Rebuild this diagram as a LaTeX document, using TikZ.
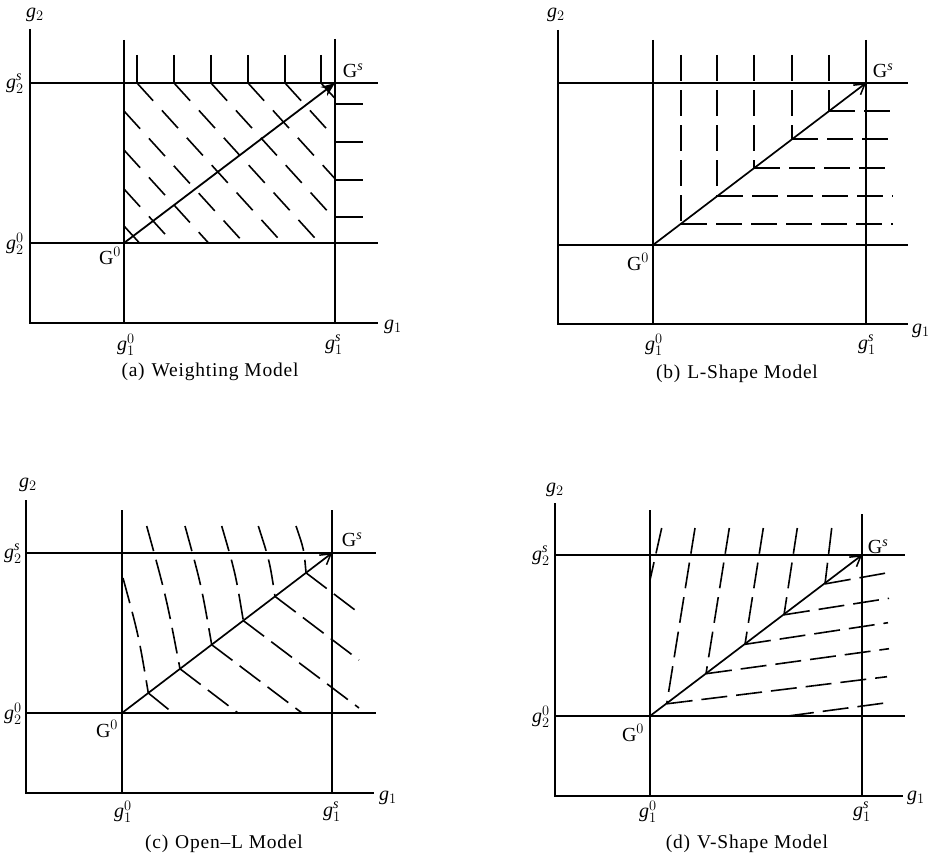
\documentclass[tikz,border=0pt]{standalone}
\usepackage{fontspec}
\setmainfont{Liberation Serif}
\newfontfamily\capfont[LetterSpace=4]{Liberation Serif}
\usetikzlibrary{arrows.meta,calc}
\begin{document}
\begin{tikzpicture}[x=1pt,y=-1pt,
  ln/.style={line width=1.5pt},
  dsha/.style={line width=1.6pt, dash pattern=on 24pt off 13pt},
  dshb/.style={line width=1.6pt, dash pattern=on 26pt off 9pt},
  arrA/.style={line width=1.8pt,-{Stealth[length=14pt,width=11pt]}},
  arr/.style={line width=1.7pt,-{Straight Barb[length=10pt,width=12pt,line width=1.5pt]}},
  lab/.style={inner sep=0pt, font=\fontsize{20}{23}\selectfont},
  captext/.style={inner sep=0pt, font=\capfont\fontsize{19.5}{22}\selectfont},
]
\useasboundingbox[fill=white] (0,0) rectangle (933,859);

% ================= (a) Weighting Model =================
\coordinate (aG0) at (124,243);
\coordinate (aGs) at (335,83);
\draw[ln] (30,29) -- (30,323) -- (378,323);
\draw[ln] (124,40) -- (124,323);
\draw[ln] (335,39) -- (335,323);
\draw[ln] (30,83) -- (378,83);
\draw[ln] (30,243) -- (378,243);
\foreach \x in {137,174,211,248,285,321} \draw[ln] (\x,55) -- (\x,83);
\foreach \y in {104,142,180,217} \draw[ln] (335,\y) -- (363,\y);
\begin{scope}
  \clip (124,83) rectangle (335,243);
  \foreach \x in {137,174,211,248,285,321} \draw[dsha] (\x,83) -- ++(200,220);
  \foreach \y in {111,150,189,226} \draw[dsha] (124,\y) -- ++(200,220);
\end{scope}
\draw[arrA] (aG0) -- (aGs);
\node[lab] at (35,15) {$\mathit{g}_{2}$};
\node[lab] at (393,327) {$\mathit{g}_{1}$};
\node[lab] at (15,84) {$\mathit{g}_{2}^{\mathit{s}}$};
\node[lab] at (15,244) {$\mathit{g}_{2}^{0}$};
\node[lab] at (126,345) {$\mathit{g}_{1}^{0}$};
\node[lab] at (334,345) {$\mathit{g}_{1}^{\mathit{s}}$};
\node[lab] at (110,256) {G$^{0}$};
\node[lab] at (353,71) {G$^{\mathit{s}}$};
\node[captext] at (210,372) {(a)\hspace{0.35em}Weighting\hspace{0.3em}Model};

% ================= (b) L-Shape Model =================
\coordinate (bG0) at (653,245);
\coordinate (bGs) at (866,83);
\draw[ln] (558,30) -- (558,324) -- (908,324);
\draw[ln] (653,40) -- (653,324);
\draw[ln] (866,40) -- (866,324);
\draw[ln] (558,83) -- (908,83);
\draw[ln] (558,245) -- (908,245);
\foreach \x in {681,717,754,792,829}{
  \pgfmathsetmacro\yy{round(245-(\x-653)*0.7606)}
  \draw[dshb] (\x,55) -- (\x,\yy);
  \draw[dshb] (\x,\yy) -- (893,\yy);
}
\draw[arr] (bG0) -- (bGs);
\node[lab] at (556,15) {$\mathit{g}_{2}$};
\node[lab] at (921,331) {$\mathit{g}_{1}$};
\node[lab] at (654,345) {$\mathit{g}_{1}^{0}$};
\node[lab] at (867,345) {$\mathit{g}_{1}^{\mathit{s}}$};
\node[lab] at (638,262) {G$^{0}$};
\node[lab] at (883,71) {G$^{\mathit{s}}$};
\node[captext] at (737,374) {(b)\hspace{0.35em}L-Shape\hspace{0.3em}Model};

% ================= (c) Open-L Model =================
\coordinate (cG0) at (122,713);
\coordinate (cGs) at (332,553);
\draw[ln] (26,500) -- (26,793) -- (374,793);
\draw[ln] (122,510) -- (122,793);
\draw[ln] (332,510) -- (332,793);
\draw[ln] (26,553) -- (376,553);
\draw[ln] (26,713) -- (376,713);
\coordinate (J1) at (148.3,693.0);
\coordinate (J2) at (180,668.8);
\coordinate (J3) at (211.7,644.7);
\coordinate (J4) at (243.3,620.6);
\coordinate (J5) at (275,596.4);
\coordinate (J6) at (306,572.8);
\coordinate (T1) at (123,578);
\coordinate (T2) at (146.7,526);
\coordinate (T3) at (185,526);
\coordinate (T4) at (221.7,526);
\coordinate (T5) at (258.3,526);
\coordinate (T6) at (296,526);
\foreach \i in {1,...,6}{
  \draw[dshb] (T\i) .. controls ($(T\i)!0.5!(J\i)+(3,0)$) .. (J\i);
}
\draw[dshb] (J1) -- (173,713);
\draw[dshb] (J2) -- (238,713);
\draw[dshb] (J3) -- (302,713);
\draw[dshb] (J4) -- (359,708);
\draw[dshb] (J5) -- (359,660);
\draw[dshb] (J6) -- (359,613);
\draw[arr] (cG0) -- (cGs);
\node[lab] at (28,485) {$\mathit{g}_{2}$};
\node[lab] at (388,798) {$\mathit{g}_{1}$};
\node[lab] at (13,554) {$\mathit{g}_{2}^{\mathit{s}}$};
\node[lab] at (13,714) {$\mathit{g}_{2}^{0}$};
\node[lab] at (123,812) {$\mathit{g}_{1}^{0}$};
\node[lab] at (332,812) {$\mathit{g}_{1}^{\mathit{s}}$};
\node[lab] at (107,729) {G$^{0}$};
\node[lab] at (352,540) {G$^{\mathit{s}}$};
\node[captext] at (224,844) {(c)\hspace{0.35em}Open–L\hspace{0.3em}Model};

% ================= (d) V-Shape Model =================
\coordinate (dG0) at (650,716);
\coordinate (dGs) at (862,555);
\draw[ln] (555,503) -- (555,796) -- (903,796);
\draw[ln] (650,510) -- (650,796);
\draw[ln] (862,514) -- (862,796);
\draw[ln] (555,555) -- (905,555);
\draw[ln] (555,716) -- (905,716);
\coordinate (K1) at (666.7,703.8);
\coordinate (K2) at (706,673.7);
\coordinate (K3) at (745,644.3);
\coordinate (K4) at (784,614.8);
\coordinate (K5) at (825,583.9);
\coordinate (K0) at (650,580);
\draw[dshb] (661.7,528) -- (K0);
\draw[dshb] (695,528) -- (K1);
\draw[dshb] (729.3,528) -- (K2);
\draw[dshb] (763.3,528) -- (K3);
\draw[dshb] (797.3,528) -- (K4);
\draw[dshb] (831.7,528) -- (K5);
\draw[dshb] (K5) -- (888,572.7);
\draw[dshb] (K4) -- (889,598.3);
\draw[dshb] (K3) -- (888,622.7);
\draw[dshb] (K2) -- (889,648.7);
\draw[dshb] (K1) -- (887,676.7);
\draw[dshb] (788,716) -- (887,702.7);
\draw[arr] (dG0) -- (dGs);
\node[lab] at (555,490) {$\mathit{g}_{2}$};
\node[lab] at (916,798) {$\mathit{g}_{1}$};
\node[lab] at (541,556) {$\mathit{g}_{2}^{\mathit{s}}$};
\node[lab] at (541,717) {$\mathit{g}_{2}^{0}$};
\node[lab] at (648,812) {$\mathit{g}_{1}^{0}$};
\node[lab] at (862,812) {$\mathit{g}_{1}^{\mathit{s}}$};
\node[lab] at (633,733) {G$^{0}$};
\node[lab] at (878,547) {G$^{\mathit{s}}$};
\node[captext] at (747,844) {(d)\hspace{0.35em}V-Shape\hspace{0.3em}Model};
\end{tikzpicture}
\end{document}
